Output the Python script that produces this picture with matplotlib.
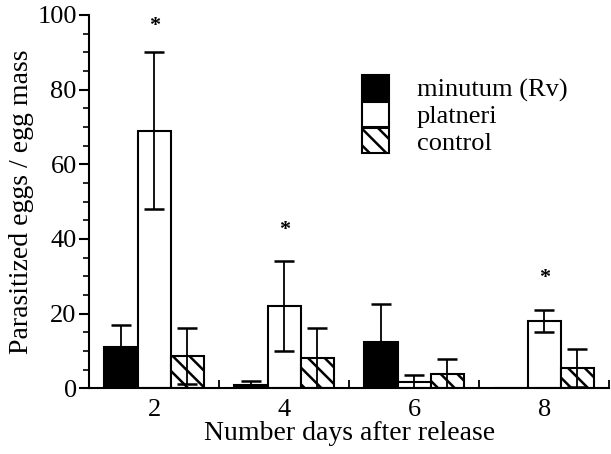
import matplotlib
matplotlib.use("Agg")
import matplotlib.pyplot as plt
import numpy as np
from matplotlib.ticker import MultipleLocator, FixedLocator

plt.rcParams['font.family'] = ['Liberation Serif', 'DejaVu Serif']
plt.rcParams['hatch.linewidth'] = 1.8

days = [2, 4, 6, 8]
series = ["minutum (Rv)", "platneri", "control"]
minutum = [11, 0.8, 12.5, 0]
minutum_err = [6, 1.2, 10, np.nan]
platneri = [69, 22, 1.6, 18]
platneri_err = [21, 12, 2, 3]
control = [8.5, 8, 3.8, 5.4]
control_err = [7.5, 8, 4, 5.2]
stars = [(2, 97), (4, 42.5), (8, 29.5)]  # (day, y position of significance star)

fig = plt.figure(figsize=(6.11, 4.54), dpi=100)
ax = fig.add_axes([0.146, 0.145, 0.851, 0.822])

w = 0.51
x = np.array(days, dtype=float)
styles = [dict(color='black', edgecolor='black'),
          dict(color='white', edgecolor='black'),
          dict(color='white', edgecolor='black', hatch='\\\\')]
vals = [minutum, platneri, control]
errs = [minutum_err, platneri_err, control_err]
for i, (v, e, st, lab) in enumerate(zip(vals, errs, styles, series)):
    xs = x + (i - 1) * w
    ax.bar(xs, v, width=w, linewidth=1.5, label=lab, zorder=2, **st)
    ax.errorbar(xs, v, yerr=e, fmt='none', ecolor='black', elinewidth=1.3,
                capsize=7.5, capthick=1.8, zorder=3)

for d, y in stars:
    ax.text(d, y, '*', ha='center', va='center', fontsize=16, fontweight='bold')

ax.set_xlim(1, 9)
ax.set_ylim(0, 100)
ax.spines['top'].set_visible(False)
ax.spines['right'].set_visible(False)
ax.spines['left'].set_linewidth(1.5)
ax.spines['bottom'].set_linewidth(1.5)

ax.set_xticks(days)
ax.set_xticklabels([str(d) for d in days])
ax.tick_params(axis='x', which='major', length=0, labelsize=19, pad=8)
ax.xaxis.set_minor_locator(FixedLocator([3, 5, 7, 9]))
ax.tick_params(axis='x', which='minor', direction='in', length=6, width=1.3)

ax.yaxis.set_major_locator(MultipleLocator(20))
ax.yaxis.set_minor_locator(MultipleLocator(5))
ax.tick_params(axis='y', which='major', length=7, width=1.5, labelsize=19, pad=2)
ax.tick_params(axis='y', which='minor', length=4, width=1.2)

ax.set_xlabel('Number days after release', fontsize=20, labelpad=0)
ax.set_ylabel('Parasitized eggs / egg mass', fontsize=20, labelpad=2)

leg = ax.legend(loc='upper left', bbox_to_anchor=(0.505, 0.867), frameon=False,
                fontsize=19, handlelength=1.0, handleheight=1.06,
                labelspacing=0.0, handletextpad=1.06, borderaxespad=0)

fig.savefig('out.png', dpi=100)
